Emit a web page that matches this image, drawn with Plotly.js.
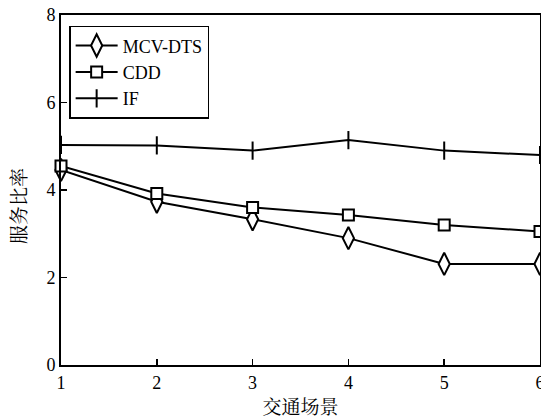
<!DOCTYPE html>
<html>
<head>
<meta charset="utf-8">
<script src="https://cdn.plot.ly/plotly-3.0.1.min.js"></script>
<style>html,body{margin:0;padding:0;background:#fff;}#chart{width:541px;height:419px;}</style>
</head>
<body>
<div id="chart"></div>
<script>
const scenarios = [1, 2, 3, 4, 5, 6];
const mcvDts = [4.46, 3.73, 3.33, 2.90, 2.31, 2.31];
const cdd = [4.55, 3.92, 3.60, 3.43, 3.20, 3.05];
const ifVals = [5.03, 5.02, 4.90, 5.14, 4.90, 4.80];
const seriesNames = ['MCV-DTS', 'CDD', 'IF'];
const xTicks = [1, 2, 3, 4, 5, 6];
const yTicks = [0, 2, 4, 6, 8];

const FONT = 'Liberation Serif, Times New Roman, Noto Serif CJK SC, Noto Sans CJK SC, serif';

function tr(y, name, symbol, size, fill) {
  return {
    x: scenarios, y: y, name: name, type: 'scatter', mode: 'lines+markers',
    cliponaxis: false,
    line: {color: '#000', width: 2},
    marker: {symbol: symbol, size: size, color: fill, line: {color: '#000', width: 2}}
  };
}

const data = [
  tr(mcvDts, seriesNames[0], 'diamond-tall', 16, '#fff'),
  tr(cdd, seriesNames[1], 'square', 11, '#fff'),
  tr(ifVals, seriesNames[2], 'line-ns-open', 13, '#000')
];

const layout = {
  width: 541, height: 419,
  margin: {l: 61, r: 1, t: 15, b: 54},
  paper_bgcolor: '#fff', plot_bgcolor: '#fff',
  font: {family: FONT, color: '#000', size: 18},
  showlegend: true,
  legend: {
    x: 0.017, y: 0.969, xanchor: 'left', yanchor: 'top',
    bgcolor: '#fff', bordercolor: '#000', borderwidth: 1.5,
    font: {family: FONT, size: 18, color: '#000'},
    itemwidth: 42, tracegroupgap: 0
  },
  xaxis: {
    range: [1, 6], tickvals: xTicks, ticktext: xTicks.map(String),
    ticks: 'inside', ticklen: 6, tickwidth: 1.5, tickcolor: '#000',
    ticklabeloverflow: 'allow',
    showline: true, linecolor: '#000', linewidth: 2, mirror: true,
    showgrid: false, zeroline: false,
    tickfont: {family: FONT, size: 18},
    title: {text: '交通场景', font: {family: FONT, size: 19}, standoff: 9}
  },
  yaxis: {
    range: [0, 8], tickvals: yTicks, ticktext: yTicks.map(String),
    ticks: 'inside', ticklen: 6, tickwidth: 1.5, tickcolor: '#000',
    ticklabeloverflow: 'allow',
    showline: true, linecolor: '#000', linewidth: 2, mirror: true,
    showgrid: false, zeroline: false,
    tickfont: {family: FONT, size: 18}
  },
  annotations: [{
    text: '服务比率', textangle: -90, showarrow: false,
    xref: 'paper', yref: 'paper', x: -0.087, y: 0.455, xanchor: 'center', yanchor: 'middle',
    font: {family: FONT, size: 19}
  }]
};

Plotly.newPlot('chart', data, layout, {displayModeBar: false, staticPlot: true});
</script>
</body>
</html>
